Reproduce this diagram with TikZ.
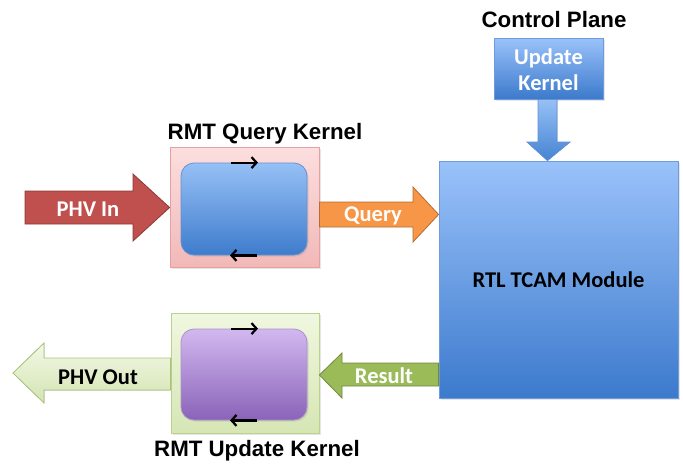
\documentclass[tikz,border=0pt]{standalone}
\usepackage{fontspec}
\setmainfont{Liberation Sans}
\newfontfamily\calfont{Carlito}
\usetikzlibrary{arrows.meta,shadows,calc}
\definecolor{phvin}{HTML}{C0504D}
\definecolor{phvinb}{HTML}{8C3836}
\definecolor{qry}{HTML}{F79646}
\definecolor{qryb}{HTML}{B66D31}
\definecolor{res}{HTML}{9BBB59}
\definecolor{resb}{HTML}{71893F}
\definecolor{outb}{HTML}{A9C47A}
\begin{document}
\begin{tikzpicture}[x=1pt,y=-1pt,
  title/.style={font=\fontsize{22.3}{26}\selectfont\bfseries, text=black},
  lbl/.style={font=\calfont\fontsize{22.5}{26}\selectfont\bfseries},
  boxbase/.style={draw, line width=0.8pt, inner sep=0pt,
    drop shadow={opacity=0.2, shadow xshift=1.5pt, shadow yshift=-1.5pt}},
  pinkbox/.style={boxbase, draw={rgb,255:red,230;green,160;blue,160}, top color={rgb,255:red,252;green,222;blue,222}, bottom color={rgb,255:red,242;green,184;blue,184}},
  greenbox/.style={boxbase, draw={rgb,255:red,186;green,210;blue,140}, top color={rgb,255:red,240;green,247;blue,224}, bottom color={rgb,255:red,214;green,230;blue,180}},
  bluebox/.style={boxbase, rounded corners=13pt, draw={rgb,255:red,100;green,145;blue,210}, top color={rgb,255:red,150;green,192;blue,246}, bottom color={rgb,255:red,62;green,124;blue,204}},
  purplebox/.style={boxbase, rounded corners=13pt, draw={rgb,255:red,170;green,145;blue,205}, top color={rgb,255:red,210;green,184;blue,240}, bottom color={rgb,255:red,138;green,99;blue,184}},
  tcambox/.style={boxbase, draw={rgb,255:red,110;green,155;blue,220}, top color={rgb,255:red,154;green,194;blue,250}, bottom color={rgb,255:red,60;green,122;blue,204}},
  smallarr/.style={line width=2.2pt, -{Straight Barb[length=5pt,width=11pt,line width=2.2pt]}}
]
\useasboundingbox (0,0) rectangle (683,466);

% titles
\node[title] (ctl) at (554,19.5) {Control Plane};
\node[title] (qtitle) at (265,134) {RMT Query Kernel};
\node[title] (utitle) at (257,451) {RMT Update Kernel};

% boxes
\node[pinkbox, minimum width=149pt, minimum height=120pt] (qk) at (244.5,207.5) {};
\node[bluebox, minimum width=126pt, minimum height=92pt] (qin) at (244,209) {};
\node[greenbox, minimum width=148pt, minimum height=120pt] (uk) at (245,373) {};
\node[purplebox, minimum width=126pt, minimum height=91pt] (uin) at (244,374.5) {};
\node[tcambox, minimum width=239pt, minimum height=237pt, lbl, text=black] (tcam) at (558.5,279.5) {RTL TCAM Module};
\node[tcambox, minimum width=109pt, minimum height=61pt] (upd) at (548.5,68.5) {};
\node[lbl, text=white, align=center] (updtxt) at (548.5,70) {Update\\Kernel};

% small loop arrows
\draw[smallarr] ($(qin.north)+(-13,0)$) -- ++(27,0);
\draw[smallarr] ($(qin.south)+(13,0)$) -- ++(-27,0);
\draw[smallarr] ($(uin.north)+(-13,0)$) -- ++(27,0);
\draw[smallarr] ($(uin.south)+(13,0)$) -- ++(-27,0);

% block arrows
\filldraw[fill=phvin, draw=phvinb, line width=0.8pt]
  (25,191) -- (133,191) -- (133,174) -- (qk.west |- 0,207.5) -- (133,241) -- (133,224) -- (25,224) -- cycle;
\node[lbl, text=white] (phvin) at (88,209) {PHV In};

\filldraw[fill=qry, draw=qryb, line width=0.8pt]
  (qk.east |- 0,202) -- (413,202) -- (413,187) -- (tcam.west |- 0,214.5) -- (413,242) -- (413,227) -- (qk.east |- 0,227) -- cycle;
\node[lbl, text=white] (qlbl) at (373,216) {Query};

\filldraw[fill=res, draw=resb, line width=0.8pt]
  (tcam.west |- 0,363) -- (342,363) -- (342,353) -- (uk.east |- 0,375) -- (342,398) -- (342,386) -- (tcam.west |- 0,386) -- cycle;
\node[lbl, text=white] (rlbl) at (384,376) {Result};

\filldraw[top color={rgb,255:red,242;green,248;blue,230}, bottom color={rgb,255:red,212;green,228;blue,178}, draw=outb, line width=0.8pt]
  (uk.west |- 0,358) -- (44,358) -- (44,343) -- (13,373) -- (44,403) -- (44,390) -- (uk.west |- 0,390) -- cycle;
\node[lbl, text=black] (phvout) at (98,377) {PHV Out};

\filldraw[top color={rgb,255:red,150;green,192;blue,246}, bottom color={rgb,255:red,70;green,132;blue,210}, draw={rgb,255:red,100;green,145;blue,210}, line width=0.8pt]
  (upd.south -| 538,0) -- (538,142) -- (527,142) -- (tcam.north -| 547.5,0) -- (570,142) -- (557,142) -- (upd.south -| 557,0) -- cycle;
\end{tikzpicture}
\end{document}
